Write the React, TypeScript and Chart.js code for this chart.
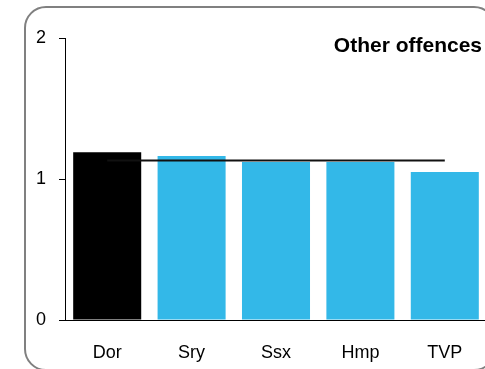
import React, { useEffect, useRef } from "react";
import { Chart, registerables } from "chart.js";

Chart.register(...registerables);

const categories = ["Dor", "Sry", "Ssx", "Hmp", "TVP"];
const barValues = [1.19, 1.163, 1.12, 1.12, 1.05];
const averageValue = 1.132;
const averageLine = categories.map(() => averageValue);
const barColors = ["#000000", "#33b8e8", "#33b8e8", "#33b8e8", "#33b8e8"];
const yTicks = [0, 1, 2];
const titleText = "Other offences";

const FONT = "'Liberation Sans', Arial, Helvetica, sans-serif";

const W = 500;
const H = 369;

const framePlugin = {
  id: "frame",
  beforeDraw(chart: any) {
    const ctx = chart.ctx;
    ctx.save();
    ctx.strokeStyle = "#808080";
    ctx.lineWidth = 2;
    ctx.beginPath();
    (ctx as any).roundRect(25, 7, 470, 363, 21);
    ctx.stroke();
    ctx.restore();
  },
  afterDraw(chart: any) {
    const ctx = chart.ctx;
    ctx.save();
    ctx.fillStyle = "#000000";
    ctx.font = "bold 21px " + FONT;
    ctx.textAlign = "right";
    ctx.textBaseline = "alphabetic";
    ctx.fillText(titleText, 482, 52);
    ctx.restore();
  },
};

export default function App() {
  const ref = useRef<HTMLCanvasElement | null>(null);

  useEffect(() => {
    if (!ref.current) return;
    const chart = new Chart(ref.current, {
      type: "bar",
      data: {
        labels: categories,
        datasets: [
          {
            type: "line",
            data: averageLine,
            borderColor: "#111111",
            borderWidth: 2,
            pointRadius: 0,
            fill: false,
            order: 0,
          } as any,
          {
            type: "bar",
            data: barValues,
            backgroundColor: barColors,
            borderWidth: 0,
            categoryPercentage: 1,
            barPercentage: 0.806,
            order: 1,
          },
        ],
      },
      options: {
        animation: false,
        responsive: false,
        maintainAspectRatio: false,
        layout: { padding: { top: 38, left: 0, right: W - 487, bottom: 0 } },
        plugins: {
          legend: { display: false },
          tooltip: { enabled: false },
          title: { display: false },
        },
        scales: {
          x: {
            offset: true,
            grid: { display: false },
            border: { display: true, color: "#000000", width: 1 },
            ticks: {
              color: "#000000",
              font: { family: FONT, size: 18 },
              padding: 14,
              maxRotation: 0,
            },
            afterFit(scale: any) {
              scale.height = H - 320;
            },
          },
          y: {
            min: 0,
            max: 2,
            afterBuildTicks(scale: any) {
              scale.ticks = yTicks.map((v) => ({ value: v }));
            },
            grid: {
              drawOnChartArea: false,
              drawTicks: true,
              tickLength: 6,
              color: "#000000",
            },
            border: { display: true, color: "#000000", width: 1 },
            ticks: {
              color: "#000000",
              font: { family: FONT, size: 18 },
              padding: 13,
            },
            afterFit(scale: any) {
              scale.width = 65;
            },
          },
        },
      },
      plugins: [framePlugin],
    });
    return () => chart.destroy();
  }, []);

  return (
    <div
      style={{
        position: "fixed",
        left: 0,
        top: 0,
        width: 485,
        height: 369,
        overflow: "hidden",
        background: "#ffffff",
      }}
    >
      <canvas ref={ref} width={W} height={H} style={{ display: "block", width: W, height: H }} />
    </div>
  );
}
